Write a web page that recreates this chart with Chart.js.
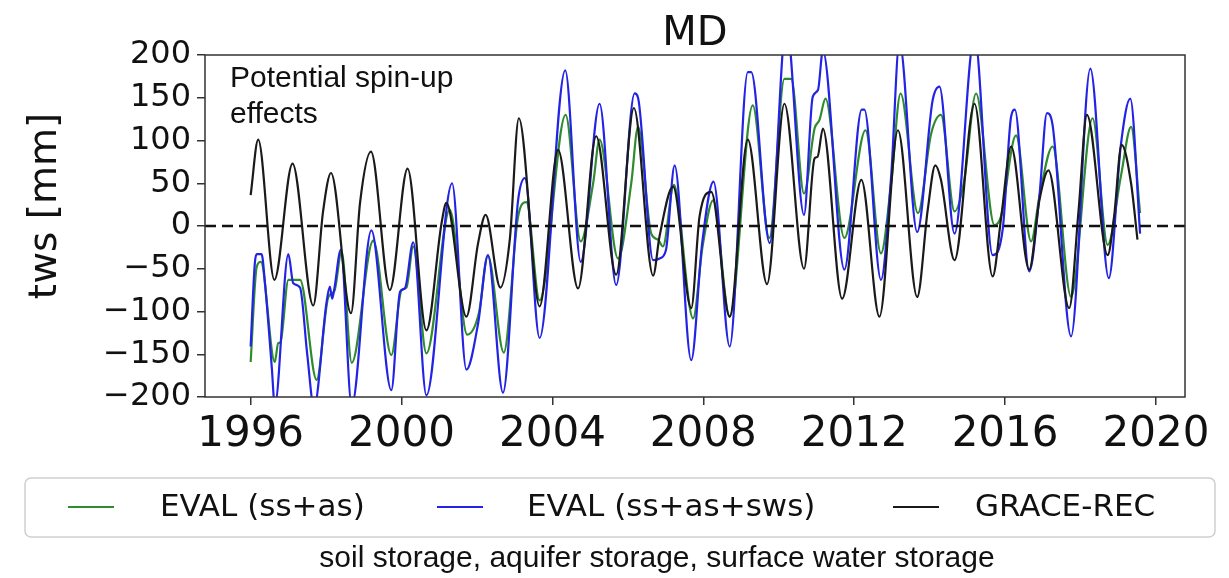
<!DOCTYPE html>
<html>
<head>
<meta charset="utf-8">
<title>MD tws</title>
<script src="https://cdn.jsdelivr.net/npm/chart.js@4.4.0/dist/chart.umd.min.js"></script>
<style>
  html, body { margin: 0; padding: 0; background: #fff; }
  #wrap { width: 1229px; height: 578px; }
</style>
</head>
<body>
<div id="wrap"><canvas id="chart" width="1229" height="578"></canvas></div>
<script>
// axis setup
const xMin = 1994.79;
const xMax = 2020.77;
const xTicks = [1996, 2000, 2004, 2008, 2012, 2016, 2020];
const yMin = -200;
const yMax = 200;

// GRACE-REC (black)
const graceYears = [
  1996.00, 1996.20, 1996.63, 1997.11, 1997.66, 1997.92, 1998.13, 1998.66, 1998.90, 1999.19,
  1999.69, 2000.16, 2000.66, 2001.06, 2001.19, 2001.72, 2002.03, 2002.23, 2002.62, 2002.87,
  2003.11, 2003.66, 2004.15, 2004.68, 2005.16, 2005.69, 2006.16, 2006.67, 2006.84, 2007.20,
  2007.68, 2007.90, 2008.21, 2008.70, 2009.18, 2009.69, 2010.15, 2010.67, 2010.95, 2011.03,
  2011.17, 2011.68, 2012.19, 2012.67, 2013.16, 2013.67, 2013.95, 2014.15, 2014.30, 2014.66,
  2015.19, 2015.67, 2015.90, 2016.16, 2016.64, 2016.91, 2017.15, 2017.70, 2017.95, 2018.17,
  2018.72, 2018.89, 2019.09, 2019.34, 2019.51
];
const graceTws = [
  36, 101, -63, 73, -93, 17, 62, -102, 27, 87,
  -75, 67, -122, 3, 27, -106, -20, 13, -72, -16,
  126, -94, 89, -73, 105, -57, 138, -58, -12, 46,
  -96, 11, 40, -106, 101, -68, 143, -50, 79, 81,
  114, -85, 54, -106, 112, -83, 19, 71, 54, -40,
  143, -59, 11, 93, -51, 30, 65, -96, 19, 130,
  -34, 11, 95, 50, -16
];

// EVAL (ss+as) (green)
const ssasYears = [
  1996.00, 1996.16, 1996.27, 1996.64, 1996.73, 1996.79, 1997.00, 1997.31, 1997.75, 1998.06,
  1998.22, 1998.41, 1998.68, 1999.25, 1999.73, 2000.00, 2000.13, 2000.31, 2000.66, 2001.28,
  2001.74, 2002.05, 2002.29, 2002.71, 2003.09, 2003.31, 2003.66, 2004.35, 2004.75, 2005.08,
  2005.25, 2005.74, 2006.09, 2006.27, 2006.62, 2006.80, 2006.93, 2007.22, 2007.73, 2007.98,
  2008.26, 2008.70, 2009.31, 2009.75, 2010.15, 2010.33, 2010.67, 2010.95, 2011.08, 2011.24,
  2011.74, 2012.30, 2012.71, 2012.98, 2013.23, 2013.69, 2014.04, 2014.30, 2014.66, 2014.92,
  2015.23, 2015.72, 2015.89, 2016.29, 2016.69, 2016.91, 2017.26, 2017.75, 2018.32, 2018.72,
  2019.07, 2019.34, 2019.58
];
const ssasTws = [
  -159, -48, -42, -159, -137, -136, -63, -63, -180, -83,
  -76, -30, -160, -17, -151, -75, -72, -24, -149, 19,
  -127, -102, -35, -148, 11, 28, -87, 130, -18, 50,
  101, -38, 50, 116, -9, -16, -24, 48, -108, -24,
  30, -106, 141, -14, 172, 172, 38, 114, 124, 149,
  -14, 112, -32, 50, 155, 15, 108, 130, 17, 54,
  155, 1, 11, 106, -18, 34, 93, -83, 126, -22,
  58, 116, 15
];

// EVAL (ss+as+sws) (blue)
const swsYears = [
  1996.00, 1996.11, 1996.16, 1996.29, 1996.38, 1996.56, 1996.64, 1997.00, 1997.13, 1997.31,
  1997.50, 1997.68, 1998.01, 1998.10, 1998.16, 1998.22, 1998.39, 1998.68, 1999.20, 1999.73,
  1999.96, 2000.09, 2000.31, 2000.66, 2001.34, 2001.72, 2002.03, 2002.29, 2002.69, 2003.09,
  2003.27, 2003.66, 2004.34, 2004.75, 2005.25, 2005.69, 2006.18, 2006.27, 2006.67, 2006.84,
  2007.01, 2007.24, 2007.68, 2007.97, 2008.27, 2008.70, 2009.18, 2009.27, 2009.76, 2010.20,
  2010.67, 2010.90, 2011.04, 2011.17, 2011.74, 2012.20, 2012.27, 2012.71, 2012.98, 2013.20,
  2013.67, 2014.08, 2014.26, 2014.66, 2015.19, 2015.67, 2015.94, 2016.16, 2016.26, 2016.64,
  2016.91, 2017.11, 2017.26, 2017.75, 2018.26, 2018.75, 2019.07, 2019.32, 2019.58
];
const swsTws = [
  -141, -44, -33, -33, -67, -165, -210, -33, -67, -72,
  -150, -212, -90, -71, -85, -73, -28, -210, -5, -192,
  -77, -73, -19, -198, 50, -168, -114, -34, -195, 30,
  56, -131, 182, -42, 143, -69, 155, 150, -40, -38,
  -28, 71, -157, -20, 52, -141, 180, 180, -20, 235,
  13, 151, 159, 205, -51, 136, 136, -63, 58, 215,
  -7, 147, 163, -9, 222, -34, -3, 128, 136, -53,
  35, 132, 118, -129, 184, -61, 95, 149, -9
];

const toPoints = (xs, ys) => xs.map((x, i) => ({ x: x, y: ys[i] }));

const legendItems = [
  { label: "EVAL (ss+as)", color: "#2e8b2e", lineX: 68, textX: 160 },
  { label: "EVAL (ss+as+sws)", color: "#2323e6", lineX: 437, textX: 527 },
  { label: "GRACE-REC", color: "#1a1a1a", lineX: 893, textX: 975 },
];

// frame, title, notes, legend
const decorPlugin = {
  id: "decor",
  afterDatasetsDraw(chart) {
    const { ctx, chartArea } = chart;
    ctx.save();
    ctx.strokeStyle = "#333";
    ctx.lineWidth = 1.5;
    ctx.strokeRect(chartArea.left, chartArea.top,
      chartArea.right - chartArea.left, chartArea.bottom - chartArea.top);
    ctx.restore();
  },
  afterDraw(chart) {
    const { ctx, chartArea } = chart;
    ctx.save();
    ctx.fillStyle = "#111";
    ctx.textAlign = "center";
    ctx.textBaseline = "alphabetic";
    ctx.font = "40px 'DejaVu Sans'";
    ctx.fillText("MD", (chartArea.left + chartArea.right) / 2, 45);

    // y axis title, drawn by hand to sit where the original has it
    ctx.save();
    ctx.translate(46, 206);
    ctx.rotate(-Math.PI / 2);
    ctx.textBaseline = "middle";
    ctx.font = "39px 'DejaVu Sans'";
    ctx.fillText("tws [mm]", 0, 0);
    ctx.restore();

    ctx.textAlign = "left";
    ctx.font = "30px 'Liberation Sans'";
    ctx.fillText("Potential spin-up", 230, 87);
    ctx.fillText("effects", 230, 123);

    ctx.textAlign = "center";
    ctx.fillText("soil storage, aquifer storage, surface water storage", 657, 567);

    // legend box
    ctx.beginPath();
    ctx.roundRect(25, 478, 1190, 59, 6);
    ctx.fillStyle = "#fff";
    ctx.fill();
    ctx.strokeStyle = "#cfcfcf";
    ctx.lineWidth = 1.5;
    ctx.stroke();

    ctx.font = "31px 'DejaVu Sans'";
    ctx.textAlign = "left";
    ctx.textBaseline = "middle";
    legendItems.forEach((it) => {
      ctx.beginPath();
      ctx.moveTo(it.lineX, 507);
      ctx.lineTo(it.lineX + 46, 507);
      ctx.strokeStyle = it.color;
      ctx.lineWidth = 2;
      ctx.stroke();
      ctx.fillStyle = "#111";
      ctx.fillText(it.label, it.textX, 508);
    });
    ctx.restore();
  },
};

const lineStyle = {
  borderWidth: 2.2,
  pointRadius: 0,
  fill: false,
  cubicInterpolationMode: "monotone",
};

new Chart(document.getElementById("chart"), {
  type: "line",
  data: {
    datasets: [
      {
        label: "zero",
        data: [{ x: xMin, y: 0 }, { x: xMax, y: 0 }],
        borderColor: "#111",
        borderWidth: 2.5,
        borderDash: [11, 6],
        pointRadius: 0,
        order: 0,
      },
      {
        ...lineStyle,
        label: legendItems[2].label,
        data: toPoints(graceYears, graceTws),
        borderColor: legendItems[2].color,
        order: 1,
      },
      {
        ...lineStyle,
        label: legendItems[1].label,
        data: toPoints(swsYears, swsTws),
        borderColor: legendItems[1].color,
        order: 2,
      },
      {
        ...lineStyle,
        label: legendItems[0].label,
        data: toPoints(ssasYears, ssasTws),
        borderColor: legendItems[0].color,
        order: 3,
      },
    ],
  },
  options: {
    responsive: false,
    animation: false,
    layout: { padding: { left: 0, right: 44, top: 55, bottom: 0 } },
    plugins: {
      legend: { display: false },
      title: { display: false },
      tooltip: { enabled: false },
    },
    scales: {
      x: {
        type: "linear",
        min: xMin,
        max: xMax,
        afterBuildTicks: (scale) => {
          scale.ticks = xTicks.map((v) => ({ value: v }));
        },
        afterFit: (scale) => {
          scale.height = 181;
        },
        ticks: {
          autoSkip: false,
          maxRotation: 0,
          padding: 5,
          color: "#111",
          font: { family: "DejaVu Sans", size: 42 },
          callback: (v) => String(v),
        },
        grid: {
          drawOnChartArea: false,
          drawTicks: true,
          tickLength: 8,
          color: "#333",
          lineWidth: 1.5,
        },
        border: { display: false },
      },
      y: {
        min: yMin,
        max: yMax,
        afterFit: (scale) => {
          scale.width = 205;
        },
        ticks: {
          stepSize: 50,
          padding: 6,
          color: "#111",
          font: { family: "DejaVu Sans", size: 32 },
          callback: (v) => (v < 0 ? "\u2212" + Math.abs(v) : String(v)),
        },
        grid: {
          drawOnChartArea: false,
          drawTicks: true,
          tickLength: 8,
          color: "#333",
          lineWidth: 1.5,
        },
        border: { display: false },
      },
    },
  },
  plugins: [decorPlugin],
});
</script>
</body>
</html>
